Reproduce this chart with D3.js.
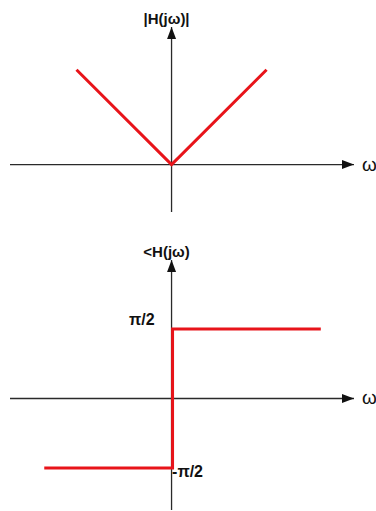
<!DOCTYPE html>
<html>
<head>
<meta charset="utf-8">
<script src="https://cdn.jsdelivr.net/npm/d3@7"></script>
<style>
  html, body { margin: 0; padding: 0; background: #fff; }
  svg { display: block; }
  text { font-family: "Liberation Sans", Arial, sans-serif; font-weight: bold; fill: #111; }
</style>
</head>
<body>
<svg id="chart" width="376" height="511"></svg>
<script>
// Ideal differentiator: magnitude |H(jω)| = |ω|, phase = ±π/2
const omegaMag = [-1, 0, 1];
const magValues = [1, 0, 1];

const omegaPhase = [-1.35, 0, 0, 1.56];
const phaseValues = [-Math.PI / 2, -Math.PI / 2, Math.PI / 2, Math.PI / 2];

const phaseTicks = [Math.PI / 2, -Math.PI / 2];
const phaseTickLabels = ["π/2", "-π/2"];

const titles = ["|H(jω)|", "<H(jω)"];
const xLabel = "ω";

// Axis extents in data units
const omegaExtent = [-1.7, 1.92];
const magExtent = [-0.5, 1.45];
const phaseExtent = [-2.52, 3.13];

const svg = d3.select("#chart");
const axisColor = "#2a2a2a";
const red = "#e8141a";

const defs = svg.append("defs");
defs.append("marker")
  .attr("id", "arrow")
  .attr("viewBox", "0 0 12 10")
  .attr("refX", 12).attr("refY", 5)
  .attr("markerWidth", 12).attr("markerHeight", 10)
  .attr("markerUnits", "userSpaceOnUse")
  .attr("orient", "auto")
  .append("path")
  .attr("d", "M0,0.5 L12,5 L0,9.5 Z")
  .attr("fill", "#111");

function drawAxes(g, x, y, yExt, title, titleY) {
  // horizontal ω axis
  g.append("line")
    .attr("x1", x(omegaExtent[0])).attr("x2", x(omegaExtent[1]))
    .attr("y1", y(0)).attr("y2", y(0))
    .attr("stroke", axisColor).attr("stroke-width", 1.3)
    .attr("marker-end", "url(#arrow)");
  // vertical axis
  g.append("line")
    .attr("x1", x(0)).attr("x2", x(0))
    .attr("y1", y(yExt[0])).attr("y2", y(yExt[1]))
    .attr("stroke", axisColor).attr("stroke-width", 1.3)
    .attr("marker-end", "url(#arrow)");
  g.append("text")
    .attr("x", x(omegaExtent[1]) + 8)
    .attr("y", y(0) + 6)
    .attr("font-size", 19)
    .style("font-weight", "normal")
    .text(xLabel);
  g.append("text")
    .attr("x", x(0) - 5)
    .attr("y", titleY)
    .attr("text-anchor", "middle")
    .attr("font-size", 15)
    .text(title);
}

// Magnitude panel
const xMag = d3.scaleLinear().domain(omegaExtent).range([10, 354]);
const yMag = d3.scaleLinear().domain(magExtent).range([212, 27]);
const gMag = svg.append("g");
drawAxes(gMag, xMag, yMag, magExtent, titles[0], 24);

const magLine = d3.line().x(d => xMag(d[0])).y(d => yMag(d[1]));
gMag.append("path")
  .datum(d3.zip(omegaMag, magValues))
  .attr("d", magLine)
  .attr("fill", "none")
  .attr("stroke", red)
  .attr("stroke-width", 3);

// Phase panel
const xPh = d3.scaleLinear().domain(omegaExtent).range([10, 354]);
const yPh = d3.scaleLinear().domain(phaseExtent).range([510, 260]);
const gPh = svg.append("g");
drawAxes(gPh, xPh, yPh, phaseExtent, titles[1], 257);

const phLine = d3.line().x(d => xPh(d[0]) + 1).y(d => yPh(d[1]));
gPh.append("path")
  .datum(d3.zip(omegaPhase, phaseValues))
  .attr("d", phLine)
  .attr("fill", "none")
  .attr("stroke", red)
  .attr("stroke-width", 3);

gPh.selectAll("text.tick")
  .data(phaseTicks)
  .join("text")
  .attr("class", "tick")
  .attr("font-size", 16)
  .attr("text-anchor", (d, i) => i === 0 ? "end" : "start")
  .attr("x", (d, i) => i === 0 ? xPh(0) - 17 : xPh(0) + 0.5)
  .attr("y", (d, i) => i === 0 ? yPh(d) - 4 : yPh(d) + 9)
  .text((d, i) => phaseTickLabels[i]);
</script>
</body>
</html>
